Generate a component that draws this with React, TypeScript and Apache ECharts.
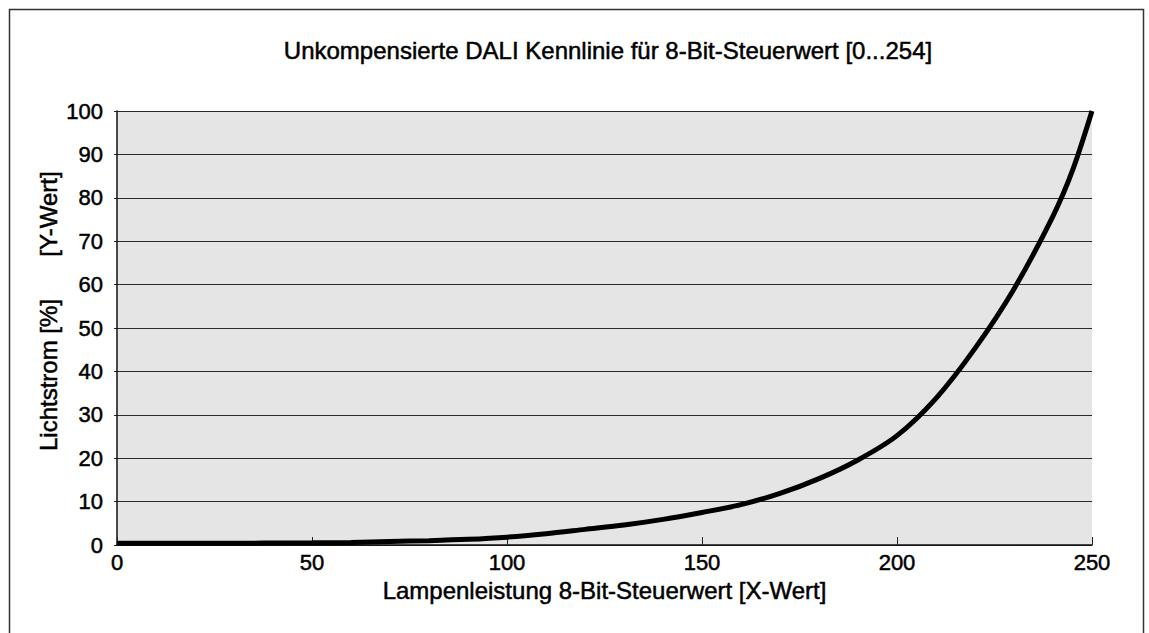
import React, { useEffect, useRef } from "react";
import * as echarts from "echarts";

const titleText = "Unkompensierte DALI Kennlinie für 8-Bit-Steuerwert [0...254]";
const xAxisName = "Lampenleistung 8-Bit-Steuerwert [X-Wert]";
const yAxisNameMain = "Lichtstrom [%]";
const yAxisNameSub = "[Y-Wert]";

// control value (X) and luminous flux in % (Y)
const controlValues = [0, 25, 50, 60, 70, 80, 90, 100, 110, 120, 130, 140, 150, 160, 170, 180, 190, 200, 210, 220, 230, 240, 245, 250];
const fluxValues = [0.4, 0.4, 0.5, 0.6, 0.8, 1.0, 1.3, 1.8, 2.6, 3.6, 4.6, 5.9, 7.5, 9.3, 11.9, 15.3, 19.6, 25.2, 33.8, 45.3, 59, 75.8, 86.3, 100];

const xTicks = [0, 50, 100, 150, 200, 250];
const yTicks = [0, 10, 20, 30, 40, 50, 60, 70, 80, 90, 100];

const FONT = "'Liberation Sans', Arial, Helvetica, sans-serif";
const bold = { textBorderColor: "#000", textBorderWidth: 0.5 };

export default function App() {
  const ref = useRef<HTMLDivElement>(null);

  useEffect(() => {
    if (!ref.current) return;
    const chart = echarts.init(ref.current, undefined, { renderer: "svg" });
    const data = controlValues.map((x, i) => [x, fluxValues[i]]);
    const textStyle = (size: number) => ({
      fontFamily: FONT,
      fontSize: size,
      fill: "#000",
      textAlign: "center",
      textVerticalAlign: "middle",
      stroke: "#000",
      lineWidth: 0.5,
    });
    chart.setOption({
      animation: false,
      backgroundColor: "#ffffff",
      textStyle: { fontFamily: FONT, color: "#000" },
      grid: {
        left: 117,
        top: 111,
        right: 57,
        bottom: 88,
        show: true,
        backgroundColor: "#e5e5e5",
        borderWidth: 0,
        containLabel: false,
      },
      xAxis: {
        type: "value",
        min: xTicks[0],
        max: xTicks[xTicks.length - 1],
        interval: 50,
        name: xAxisName,
        nameLocation: "middle",
        nameGap: 30,
        nameTextStyle: { fontFamily: FONT, fontSize: 24, color: "#000", ...bold },
        axisLine: { show: true, onZero: false, lineStyle: { color: "#111", width: 1.5 } },
        axisTick: { show: true, inside: true, length: 8, lineStyle: { color: "#222", width: 1 } },
        axisLabel: { fontFamily: FONT, fontSize: 22, color: "#000", margin: 6, ...bold },
        splitLine: { show: false },
      },
      yAxis: {
        type: "value",
        min: yTicks[0],
        max: yTicks[yTicks.length - 1],
        interval: 10,
        axisLine: { show: true, lineStyle: { color: "#111", width: 1.5 } },
        axisTick: { show: true, length: 3, lineStyle: { color: "#222" } },
        axisLabel: { fontFamily: FONT, fontSize: 22, color: "#000", margin: 14, ...bold },
        splitLine: { show: true, lineStyle: { color: "#2a2a2a", width: 1.2 } },
      },
      graphic: [
        {
          type: "rect",
          silent: true,
          shape: { x: 9.5, y: 9.5, width: 1134, height: 640 },
          style: { fill: "none", stroke: "#333", lineWidth: 1.5 },
        },
        { type: "text", x: 608, y: 50, style: { text: titleText, ...textStyle(24) } },
        { type: "text", x: 48, y: 375, rotation: Math.PI / 2, style: { text: yAxisNameMain, ...textStyle(24) } },
        { type: "text", x: 48, y: 214, rotation: Math.PI / 2, style: { text: yAxisNameSub, ...textStyle(24) } },
      ],
      series: [
        {
          type: "line",
          data,
          smooth: 0.3,
          showSymbol: false,
          clip: false,
          lineStyle: { color: "#000", width: 5 },
        },
      ],
    });
    return () => chart.dispose();
  }, []);

  return (
    <div
      ref={ref}
      style={{ position: "fixed", left: 0, top: 0, width: 1149, height: 633 }}
    />
  );
}
